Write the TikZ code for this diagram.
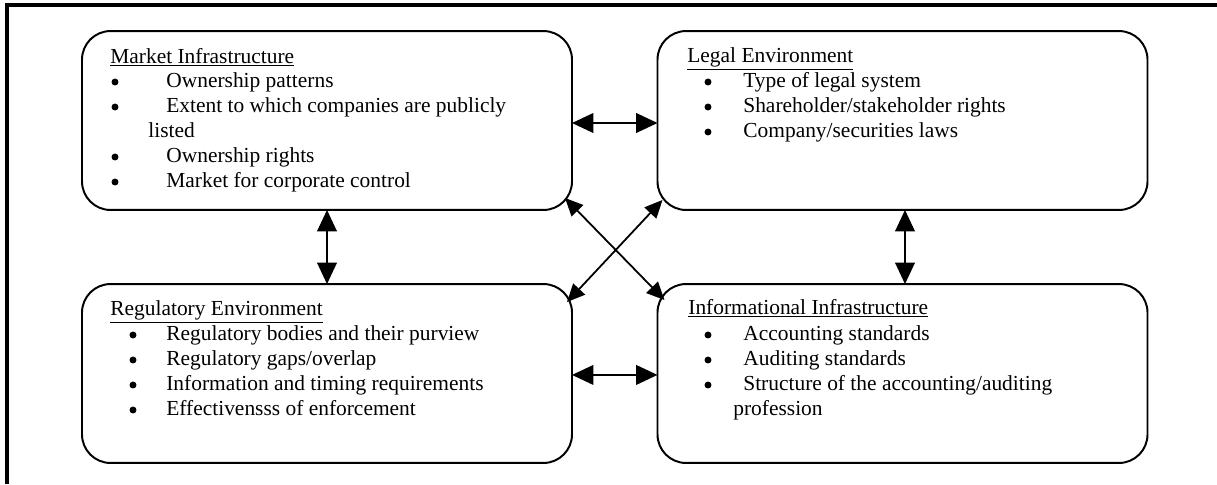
\documentclass[tikz,border=0pt]{standalone}
\usepackage{fontspec}
\setmainfont{Liberation Serif}
\usetikzlibrary{arrows.meta}
\tikzset{
  panel/.style={draw, line width=1.1pt, rounded corners=16pt, minimum width=274.4pt,
    minimum height=100.2pt, inner sep=0pt, outer sep=0pt},
  link/.style={line width=1.1pt, {Triangle[length=12pt,width=11pt]}-{Triangle[length=12pt,width=11pt]}},
  xlink/.style={line width=1pt, {Triangle[length=10pt,width=9pt]}-{Triangle[length=10pt,width=9pt]}},
  item/.style={anchor=base west, inner sep=0pt},
  dot/.style={circle, fill, inner sep=0pt, minimum size=3.9pt},
}
\begin{document}
\begin{tikzpicture}[x=0.56pt, y=-0.56pt, font=\fontsize{12}{14}\selectfont]
\useasboundingbox (0,0) rectangle (1217,484);
\draw[line width=1.7pt] (7,484) -- (7,5) -- (1217,5);
% the four panels
\node[panel] (mkt) at (327,120.5) {};
\node[panel] (legal) at (902.5,120.5) {};
\node[panel] (reg) at (327,373.5) {};
\node[panel] (info) at (902.5,373.5) {};
% market infrastructure
\node[item] (mkt-t) at (110,63) {\underline{Market Infrastructure}};
\node[dot] (mkt-b1) at (115,82) {};
\node[dot] (mkt-b2) at (115,107) {};
\node[dot] (mkt-b3) at (115,157) {};
\node[dot] (mkt-b4) at (115,182) {};
\node[item] (mkt-1) at (166,87) {Ownership patterns};
\node[item] (mkt-2) at (166,112) {Extent to which companies are publicly};
\node[item] (mkt-2b) at (148,137) {listed};
\node[item] (mkt-3) at (166,162) {Ownership rights};
\node[item] (mkt-4) at (166,187) {Market for corporate control};
% legal environment
\node[item] (legal-t) at (687,62) {\underline{Legal Environment}};
\node[dot] (legal-b1) at (708,82) {};
\node[dot] (legal-b2) at (708,107) {};
\node[dot] (legal-b3) at (708,132) {};
\node[item] (legal-1) at (743,87) {Type of legal system};
\node[item] (legal-2) at (743,112) {Shareholder/stakeholder rights};
\node[item] (legal-3) at (743,137) {Company/securities laws};
% regulatory environment
\node[item] (reg-t) at (110,315) {\underline{Regulatory Environment}};
\node[dot] (reg-b1) at (133,335) {};
\node[dot] (reg-b2) at (133,360) {};
\node[dot] (reg-b3) at (133,385) {};
\node[dot] (reg-b4) at (133,410) {};
\node[item] (reg-1) at (166,340) {Regulatory bodies and their purview};
\node[item] (reg-2) at (166,365) {Regulatory gaps/overlap};
\node[item] (reg-3) at (166,390) {Information and timing requirements};
\node[item] (reg-4) at (166,415) {Effectivensss of enforcement};
% informational infrastructure
\node[item] (info-t) at (688,314) {\underline{Informational Infrastructure}};
\node[dot] (info-b1) at (708,335) {};
\node[dot] (info-b2) at (708,360) {};
\node[dot] (info-b3) at (708,385) {};
\node[item] (info-1) at (743,340) {Accounting standards};
\node[item] (info-2) at (743,365) {Auditing standards};
\node[item] (info-3) at (743,390) {Structure of the accounting/auditing};
\node[item] (info-3b) at (733,415) {profession};
% links
\draw[link] ([yshift=-1.4pt]mkt.east) -- ([yshift=-1.4pt]legal.west);
\draw[link] ([yshift=-0.8pt]reg.east) -- ([yshift=-0.8pt]info.west);
\draw[link] (mkt.south) -- (reg.north);
\draw[link] ([xshift=1.4pt]legal.south) -- ([xshift=1.4pt]info.north);
\draw[xlink] ([shift={(-7,-12)}]mkt.south east) -- ([shift={(7,16)}]info.north west);
\draw[xlink] ([shift={(5,-10)}]legal.south west) -- ([shift={(-5,18)}]reg.north east);
\end{tikzpicture}
\end{document}
